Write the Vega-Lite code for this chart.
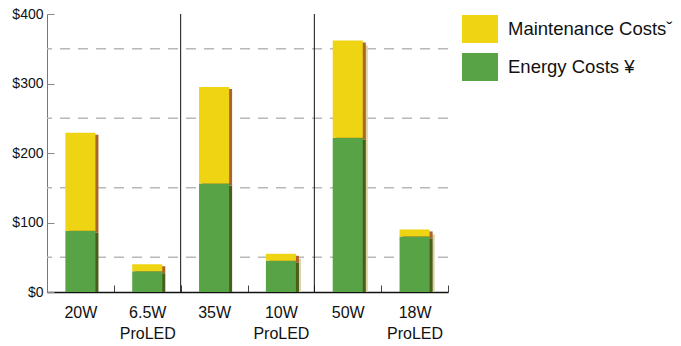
{
  "$schema": "https://vega.github.io/schema/vega-lite/v6.json",
  "autosize": "none",
  "width": 401,
  "height": 278,
  "padding": {"left": 47, "top": 14, "right": 233, "bottom": 54},
  "background": "white",
  "config": {
    "view": {"stroke": null},
    "font": "Liberation Sans"
  },
  "datasets": {
    "costs": [
      {"cat": "20W", "cost": "Energy Costs", "value": 88},
      {"cat": "20W", "cost": "Maintenance Costs", "value": 141},
      {"cat": "6.5W ProLED", "cost": "Energy Costs", "value": 30},
      {"cat": "6.5W ProLED", "cost": "Maintenance Costs", "value": 10},
      {"cat": "35W", "cost": "Energy Costs", "value": 156},
      {"cat": "35W", "cost": "Maintenance Costs", "value": 139},
      {"cat": "10W ProLED", "cost": "Energy Costs", "value": 45},
      {"cat": "10W ProLED", "cost": "Maintenance Costs", "value": 10},
      {"cat": "50W", "cost": "Energy Costs", "value": 222},
      {"cat": "50W", "cost": "Maintenance Costs", "value": 140},
      {"cat": "18W ProLED", "cost": "Energy Costs", "value": 80},
      {"cat": "18W ProLED", "cost": "Maintenance Costs", "value": 10}
    ],
    "grid": [{"v": 50}, {"v": 150}, {"v": 250}, {"v": 350}],
    "seps": [{"cat": "6.5W ProLED"}, {"cat": "10W ProLED"}]
  },
  "encoding": {
    "x": {"field": "cat", "type": "nominal",
          "scale": {"domain": ["20W", "6.5W ProLED", "35W", "10W ProLED", "50W", "18W ProLED"], "paddingInner": 0, "paddingOuter": 0},
          "axis": {"title": null, "labelAngle": 0, "labelExpr": "split(datum.label, ' ')",
                   "labelFontSize": 16, "labelColor": "#111111", "labelLineHeight": 21, "labelPadding": 19,
                   "tickBand": "extent", "tickSize": -7, "tickColor": "#444444", "tickWidth": 1,
                   "domainColor": "#111111", "domainWidth": 1.5, "labelBaseline": "top", "grid": false}},
    "y": {"type": "quantitative", "scale": {"domain": [0, 400]},
          "axis": {"title": null, "grid": false, "values": [0, 100, 200, 300, 400], "labelExpr": "'$' + datum.value",
                   "labelFontSize": 14, "labelColor": "#111111",
                   "tickSize": -7, "tickColor": "#888888", "domainColor": "#777777", "labelPadding": 11}}
  },
  "layer": [
    {
      "data": {"name": "grid"},
      "mark": {"type": "rule", "color": "#b8b8b8", "strokeWidth": 1.5, "strokeDash": [10, 8]},
      "encoding": {
        "x": null,
        "y": {"field": "v", "type": "quantitative"}
      }
    },
    {
      "data": {"name": "seps"},
      "mark": {"type": "rule", "color": "#111111", "strokeWidth": 1},
      "encoding": {
        "x": {"field": "cat", "type": "nominal", "bandPosition": 1},
        "y": null
      }
    },
    {
      "data": {"name": "costs"},
      "transform": [{"filter": "indexof(['10W ProLED','50W','18W ProLED'], datum.cat) >= 0"}],
      "mark": {"type": "bar", "width": {"band": 0.45}, "xOffset": 5, "yOffset": 5, "y2Offset": 5, "clip": true, "color": "#ddd1a4"},
      "encoding": {
        "y": {"field": "value", "type": "quantitative", "stack": "zero"},
        "order": {"field": "cost", "sort": "ascending"}
      }
    },
    {
      "data": {"name": "costs"},
      "mark": {"type": "bar", "width": {"band": 0.45}, "xOffset": 3, "yOffset": 2, "y2Offset": 2, "clip": true},
      "encoding": {
        "y": {"field": "value", "type": "quantitative", "stack": "zero"},
        "order": {"field": "cost", "sort": "ascending"},
        "color": {"condition": {"test": "datum.cost == 'Energy Costs'", "value": "#475f1b"}, "value": "#a9652a"}
      }
    },
    {
      "data": {"name": "costs"},
      "mark": {"type": "bar", "width": {"band": 0.45}},
      "encoding": {
        "y": {"field": "value", "type": "quantitative", "stack": "zero"},
        "order": {"field": "cost", "sort": "ascending"},
        "color": {"field": "cost", "type": "nominal",
                  "scale": {"domain": ["Maintenance Costs", "Energy Costs"], "range": ["#efd413", "#57a346"]},
                  "legend": {"title": null, "orient": "none", "legendX": 415, "legendY": -3,
                             "symbolType": "M-1,-0.78H1V0.78H-1Z", "symbolSize": 1296, "symbolStrokeWidth": 0,
                             "labelFontSize": 18.5, "labelColor": "#111111", "labelOffset": 10, "rowPadding": 5,
                             "labelLimit": 0,
                             "labelExpr": "datum.label == 'Maintenance Costs' ? 'Maintenance Costsˇ' : 'Energy Costs ¥'"}}
      }
    }
  ]
}
